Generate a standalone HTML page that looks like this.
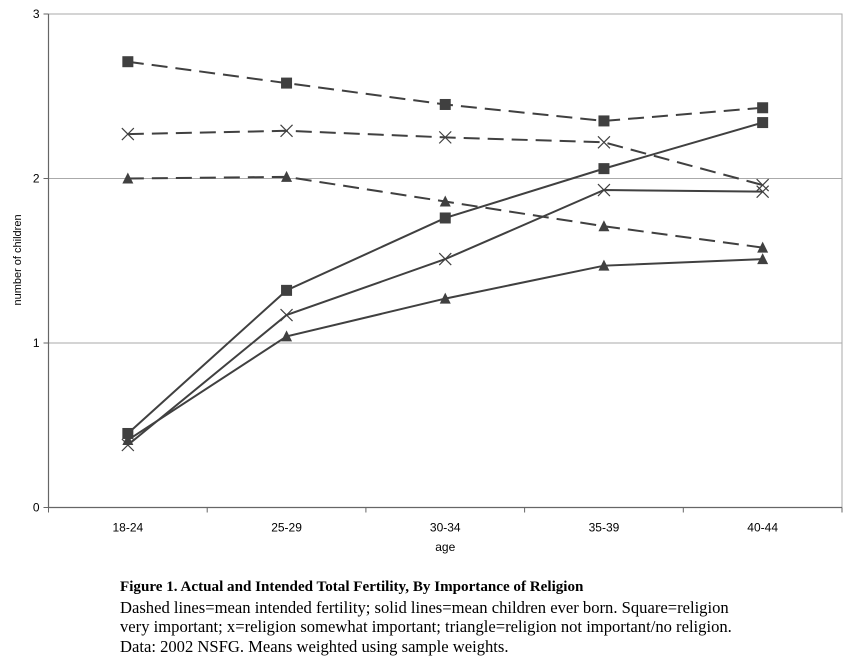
<!DOCTYPE html>
<html><head><meta charset="utf-8"><style>
body{margin:0;background:#fff;width:862px;height:671px;overflow:hidden}
svg{position:absolute;left:0;top:0}
.cap{position:absolute;left:120px;top:576px;font-family:"Liberation Serif",serif;font-size:16.6px;line-height:19.5px;color:#000;width:622px}
.cap b{font-size:15.1px}
</style></head><body>
<svg width="862" height="671" id="chart"></svg>
<div class="cap"><b>Figure 1. Actual and Intended Total Fertility, By Importance of Religion</b><br>Dashed lines=mean intended fertility; solid lines=mean children ever born. Square=religion very important; x=religion somewhat important; triangle=religion not important/no religion.<br>Data: 2002 NSFG. Means weighted using sample weights.</div>
<script>
const categories=["18-24","25-29","30-34","35-39","40-44"];
const yTicks=[0,1,2,3];
const intendedSquare=[2.71,2.58,2.45,2.35,2.43];
const intendedX=[2.27,2.29,2.25,2.22,1.96];
const intendedTri=[2.0,2.01,1.86,1.71,1.58];
const bornSquare=[0.45,1.32,1.76,2.06,2.34];
const bornX=[0.38,1.17,1.51,1.93,1.92];
const bornTri=[0.41,1.04,1.27,1.47,1.51];
const L=48.5,R=842,T=14,B=507.5;
const svg=document.getElementById('chart');const NS='http://www.w3.org/2000/svg';
const bw=(R-L)/categories.length;
const xs=i=>L+bw*(i+0.5);
const ys=v=>B-(B-T)*v/3;
function mk(t,a,p){const e=document.createElementNS(NS,t);for(const k in a)e.setAttribute(k,a[k]);(p||svg).appendChild(e);return e;}
mk('rect',{x:L,y:T,width:R-L,height:B-T,fill:'none',stroke:'#aaa','stroke-width':1});
yTicks.forEach(v=>{
 const g=mk('line',{x1:L,x2:R,y1:ys(v),y2:ys(v),stroke:'#aaa','stroke-width':1});
 
 
 mk('line',{x1:L-5,x2:L,y1:ys(v),y2:ys(v),stroke:'#666'});
 const t=mk('text',{x:L-9,y:ys(v)+4,'text-anchor':'end','font-family':'Liberation Sans, sans-serif','font-size':12});
 t.textContent=v;
 
 
});
mk('line',{x1:L,x2:R,y1:B,y2:B,stroke:'#666','stroke-width':1.2});
mk('line',{x1:L,x2:L,y1:T,y2:B,stroke:'#666','stroke-width':1.2});
for(let i=0;i<=categories.length;i++)mk('line',{x1:L+bw*i,x2:L+bw*i,y1:B,y2:B+5,stroke:'#666'});
categories.forEach((c,i)=>{
 const t=mk('text',{x:xs(i),y:B+24,'text-anchor':'middle','font-family':'Liberation Sans, sans-serif','font-size':12});
 t.textContent=c;
 
 
});
let t=mk('text',{x:(L+R)/2,y:551,'text-anchor':'middle','font-family':'Liberation Sans, sans-serif','font-size':12});t.textContent='age';


t=mk('text',{x:0,y:0,transform:'translate(21,260) rotate(-90)','text-anchor':'middle','font-family':'Liberation Sans, sans-serif','font-size':11});t.textContent='number of children';


const C='#404040';
function series(vals,dashed,marker,name){
 const g=mk('g',{});
 
 
 mk('polyline',{points:vals.map((v,i)=>xs(i)+','+ys(v)).join(' '),fill:'none',stroke:C,'stroke-width':2,'stroke-dasharray':dashed?'16,8':'none'},g);
 vals.forEach((v,i)=>{const x=xs(i),y=ys(v);let m;
  if(marker==='sq')m=mk('rect',{x:x-5.5,y:y-5.5,width:11,height:11,fill:C},g);
  else if(marker==='tri')m=mk('polygon',{points:`${x},${y-6} ${x+5.5},${y+5} ${x-5.5},${y+5}`,fill:C},g);
  else m=mk('path',{d:`M${x-6},${y-6}L${x+6},${y+6}M${x+6},${y-6}L${x-6},${y+6}`,stroke:C,'stroke-width':1.2,fill:'none'},g);
  
  
 });
}
series(intendedSquare,true,'sq','intended-square-series');
series(intendedX,true,'x','intended-x-series');
series(intendedTri,true,'tri','intended-triangle-series');
series(bornSquare,false,'sq','born-square-series');
series(bornX,false,'x','born-x-series');
series(bornTri,false,'tri','born-triangle-series');
</script>
</body></html>
